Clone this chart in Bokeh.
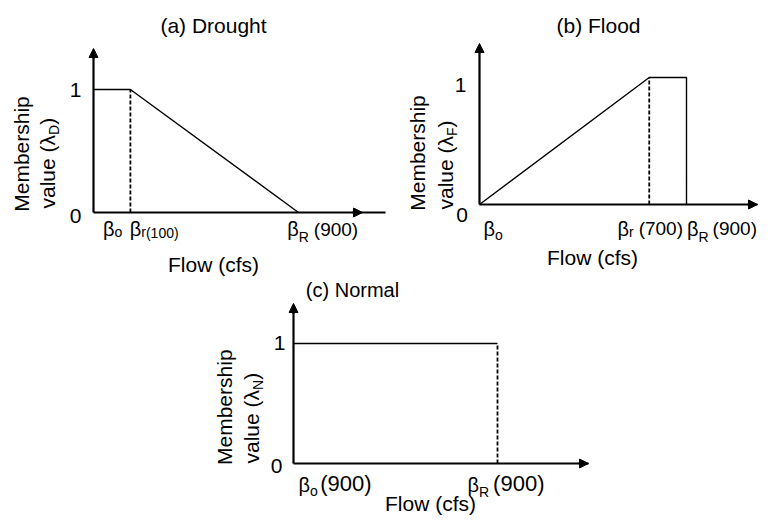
import math
from bokeh.plotting import figure
from bokeh.models import Range1d, Arrow, NormalHead, Spacer
from bokeh.layouts import row, column
from bokeh.core.properties import value
from bokeh.embed import file_html
from bokeh.resources import INLINE

# ---------------- data ----------------
# Conceptual membership functions. Flow positions are schematic (not to scale),
# normalised so that beta_R sits at 1 on every panel.
drought_flow = [0.0, 0.18, 1.0]
drought_membership = [1.0, 1.0, 0.0]
drought_beta_r = 0.18

flood_flow = [0.0, 0.82, 1.0, 1.0]
flood_membership = [0.0, 1.0, 1.0, 0.0]
flood_beta_r = 0.82

normal_flow = [0.0, 1.0]
normal_membership = [1.0, 1.0]
normal_beta_R = 1.0

panel_titles = ["(a) Drought", "(b) Flood", "(c) Normal"]
flow_label = "Flow (cfs)"
membership_label = "Membership"
membership_symbols = ["D", "F", "N"]
y_tick_labels = ["0", "1"]
drought_tick_values = ["100", "900"]
flood_tick_values = ["700", "900"]
normal_tick_values = ["900", "900"]

# ---------------- helpers ----------------
FONT = value("Liberation Sans")
ADV = {"β": 0.575, "λ": 0.5, "o": 0.556, "r": 0.333, "R": 0.722, "D": 0.722,
       "F": 0.611, "N": 0.722, "(": 0.333, ")": 0.333, " ": 0.278, "v": 0.5,
       "a": 0.556, "l": 0.222, "u": 0.556, "e": 0.556}
MID = 0.35  # distance from baseline to the middle of the em box, in em


def tw(s, size):
    return sum(ADV.get(c, 0.556) for c in s) * size


AXIS_W = 2.2
LINE_W = 1.4
DASH_W = 1.8


def make_panel(left, top, width, height, ox, oy, sx, sy):
    p = figure(width=width, height=height, output_backend="svg",
               toolbar_location=None, tools="",
               x_range=Range1d((left - ox) / sx, (left + width - ox) / sx),
               y_range=Range1d((oy - (top + height)) / sy, (oy - top) / sy),
               x_axis_location=None, y_axis_location=None, min_border=0,
               outline_line_color=None, background_fill_color="white",
               border_fill_color="white")
    p.xgrid.visible = False
    p.ygrid.visible = False

    def X(px):
        return (px - ox) / sx

    def Y(py):
        return (oy - py) / sy
    return p, X, Y


def put(p, X, Y, x_px, base_px, s, size, align="left", vertical=False):
    """Place text so that its alphabetic baseline sits at base_px (page pixels)."""
    if vertical:
        x, y, ang = X(base_px - MID * size), Y(x_px), math.pi / 2
    else:
        x, y, ang = X(x_px), Y(base_px - MID * size), 0.0
    p.text(x=[x], y=[y], text=[s], text_font=FONT, text_font_size=f"{size}px",
           text_align=align, text_baseline="middle", angle=ang,
           text_color="black")


def rich_h(p, X, Y, x0, base, pieces):
    x = x0
    for s, size, dy, gap in pieces:
        x += gap
        put(p, X, Y, x, base + dy, s, size)
        x += tw(s, size)


def rich_v(p, X, Y, bx, y0, pieces):
    # vertical text reading upwards; bx = baseline x, y0 = start (bottom) y
    y = y0
    for s, size, dx, gap in pieces:
        y -= gap
        put(p, X, Y, y, bx + dx, s, size, vertical=True)
        y -= tw(s, size)


def head():
    return NormalHead(size=9, fill_color="black", line_color="black", line_width=1)


def draw_axes(p, X, Y, y_tip, x_end, x_tip):
    p.line([0, 0], [0, Y(y_tip + 5)], line_width=AXIS_W, color="black")
    p.line([0, X(x_end)], [0, 0], line_width=AXIS_W, color="black")
    p.add_layout(Arrow(end=head(), x_start=0, y_start=Y(y_tip + 10), x_end=0,
                       y_end=Y(y_tip), line_width=AXIS_W, line_color="black"))
    p.add_layout(Arrow(end=head(), x_start=X(x_tip - 10), y_start=0, x_end=X(x_tip),
                       y_end=0, line_width=AXIS_W, line_color="black"))


def y_ticks(p, X, Y, x1, b1, x0, b0, size=21):
    put(p, X, Y, x1, b1, y_tick_labels[1], size, align="center")
    put(p, X, Y, x0, b0, y_tick_labels[0], size, align="center")


# ---------------- panel (a) Drought ----------------
pa, X, Y = make_panel(0, 0, 390, 278, ox=93, oy=212, sx=205, sy=123)
draw_axes(pa, X, Y, y_tip=48, x_end=385, x_tip=362)
pa.line(drought_flow, drought_membership, line_width=LINE_W, color="black")
pa.line([drought_beta_r, drought_beta_r], [0, 1], line_width=DASH_W, line_dash="4 2", color="black")
y_ticks(pa, X, Y, 75, 97, 75, 223)
rich_h(pa, X, Y, 102.5, 235.5, [("β", 20, 0, 0), ("o", 14, 1, 0)])
rich_h(pa, X, Y, 129.3, 235.5, [("β", 20, 0, 0), ("r", 14, 1, 0),
                               (f"({drought_tick_values[0]})", 14, 2, 0)])
rich_h(pa, X, Y, 286.7, 235.5, [("β", 20, 0, 0), ("R", 14, 6, 0),
                               (f"({drought_tick_values[1]})", 19, 0, 5)])
put(pa, X, Y, 213, 32.5, panel_titles[0], 21, align="center")
put(pa, X, Y, 213, 271.5, flow_label, 21, align="center")
put(pa, X, Y, 153.5, 28.8, membership_label, 21, align="center", vertical=True)
rich_v(pa, X, Y, 54, 208, [("value (λ", 21, 0, 0), (membership_symbols[0], 14, 4, 0), (")", 21, 0, 0)])

# ---------------- panel (b) Flood ----------------
pb, X, Y = make_panel(390, 0, 369, 278, ox=479, oy=204, sx=207, sy=127)
draw_axes(pb, X, Y, y_tip=43, x_end=757, x_tip=757)
pb.line(flood_flow, flood_membership, line_width=LINE_W, color="black")
pb.line([flood_beta_r, flood_beta_r], [0, 1], line_width=DASH_W, line_dash="4 2", color="black")
y_ticks(pb, X, Y, 460, 92, 461.5, 221.5)
rich_h(pb, X, Y, 483, 235, [("β", 20, 0, 0), ("o", 14, 4, 0)])
rich_h(pb, X, Y, 617, 235, [("β", 20, 0, 0), ("r", 14, 1.5, 0),
                            (f"({flood_tick_values[0]})", 19, 0, 5),
                            ("β", 20, 0, 4), ("R", 14, 6, 0),
                            (f"({flood_tick_values[1]})", 19, 0, 4)])
put(pb, X, Y, 598, 32.5, panel_titles[1], 21, align="center")
put(pb, X, Y, 592, 264.5, flow_label, 21, align="center")
put(pb, X, Y, 152.5, 424.6, membership_label, 21, align="center", vertical=True)
rich_v(pb, X, Y, 452, 209, [("value (λ", 21, 0, 0), (membership_symbols[1], 14, 4, 0), (")", 21, 0, 0)])

# ---------------- panel (c) Normal ----------------
pc, X, Y = make_panel(200, 278, 400, 238, ox=293, oy=463, sx=204, sy=120)
draw_axes(pc, X, Y, y_tip=303, x_end=588, x_tip=588)
pc.line(normal_flow, normal_membership, line_width=LINE_W, color="black")
pc.line([normal_beta_R, normal_beta_R], [0, 1], line_width=DASH_W, line_dash="4 2", color="black")
y_ticks(pc, X, Y, 279, 350, 276, 473)
rich_h(pc, X, Y, 298, 491, [("β", 20, 0, 0), ("o", 14, 4, 0),
                            (f"({normal_tick_values[0]})", 22, 0, 2.5)])
rich_h(pc, X, Y, 467, 491, [("β", 20, 0, 0), ("R", 14, 5, 0),
                            (f"({normal_tick_values[1]})", 22, 0, 4)])
put(pc, X, Y, 352, 296, panel_titles[2], 20, align="center")
put(pc, X, Y, 430, 510.5, flow_label, 21, align="center")
put(pc, X, Y, 406.7, 231.5, membership_label, 21, align="center", vertical=True)
rich_v(pc, X, Y, 258, 463, [("value (λ", 21, 0, 0), (membership_symbols[2], 14, 4, 0), (")", 21, 0, 0)])

layout = column(row(pa, pb), row(Spacer(width=200, height=238), pc))

open("out.html", "w").write(file_html(layout, INLINE))
